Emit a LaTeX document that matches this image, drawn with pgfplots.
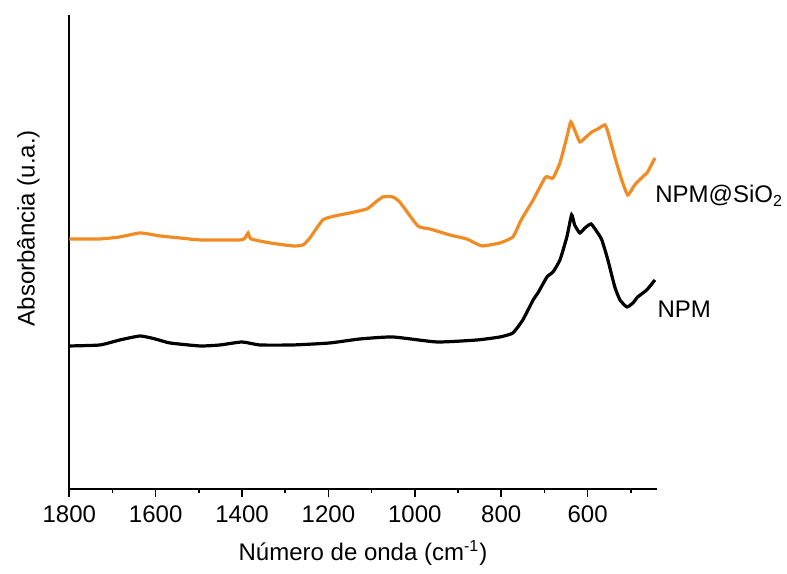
\documentclass[border=0pt]{standalone}
\usepackage{pgfplots}
\pgfplotsset{compat=1.18}
\usepackage{fontspec}
\setmainfont{Liberation Sans}
\definecolor{orng}{RGB}{240,140,35}
\begin{document}
\fontsize{12}{14.4}\selectfont
\begin{tikzpicture}
\begin{axis}[
  scale only axis,
  width=293.7pt, height=237pt,
  x dir=reverse,
  xmin=440, xmax=1800,
  ymin=0, ymax=474,
  axis x line*=bottom,
  axis y line*=left,
  axis line style={line width=0.8pt},
  ytick=\empty,
  xtick={600,800,1000,1200,1400,1600,1800},
  minor xtick={500,700,900,1100,1300,1500,1700},
  tick align=outside,
  major tick length=4pt,
  minor tick length=2pt,
  every tick/.style={line width=0.8pt, black},
  /pgf/number format/1000 sep={},
  /pgf/number format/assume math mode=true,
  tick label style={font=\fontsize{12}{14.4}\selectfont},
  xlabel={Número de onda (cm\textsuperscript{-1})},
  ylabel={Absorbância (u.a.)},
  label style={font=\fontsize{12}{14.4}\selectfont},
  xlabel style={at={(axis description cs:0.5,0)}, anchor=center, yshift=-32pt},
  ylabel style={at={(axis description cs:-0.0698,0.55)}, anchor=center},
  clip=false,
]
\addplot[orng, line width=1.6pt, smooth, tension=0.3] coordinates {
(1800,250)(1729,250)(1683,252)(1636,256)(1590,253)(1544,251)(1497,249)(1405,249)(1393,251)(1386,256)(1379,250)(1335,246)(1282,243)(1259,244)(1243,251)(1213,269)(1185,273)(1150,276)(1111,280)(1093,286)(1074,292)(1051,292)(1035,287)(993,263)(965,260)(919,254)(880,250)(861,246)(843,243)(803,246)(773,252)(755,268)(740,279)(726,289)(699,311)(692,312)(680,311)(664,326)(648,352)(639,367)(630,359)(618,347)(606,351)(590,357)(576,360)(560,364)(553,357)(537,332)(521,309)(507,294)(491,304)(475,311)(461,317)(444,331)
};
\addplot[black, line width=1.6pt, smooth, tension=0.3] coordinates {
(1800,143)(1729,144)(1683,149)(1636,153)(1601,150)(1567,146)(1497,143)(1451,144)(1400,147)(1359,144)(1282,144)(1197,146)(1127,150)(1051,152)(949,147)(856,149)(803,152)(773,156)(750,169)(726,189)(715,196)(694,212)(680,217)(664,229)(648,252)(637,274)(630,264)(618,256)(606,261)(592,265)(578,257)(567,249)(553,229)(537,202)(525,189)(509,182)(495,186)(484,192)(463,199)(444,209)
};
\node[anchor=base west, inner sep=0pt] at (axis cs:444,286) {NPM@SiO\textsubscript{2}};
\node[anchor=base west, inner sep=0pt] at (axis cs:439,171) {NPM};
\end{axis}
\path (current axis.south west) ++(-34.65pt,-41.5pt) rectangle ++(393.5pt,286pt);
\end{tikzpicture}
\end{document}
